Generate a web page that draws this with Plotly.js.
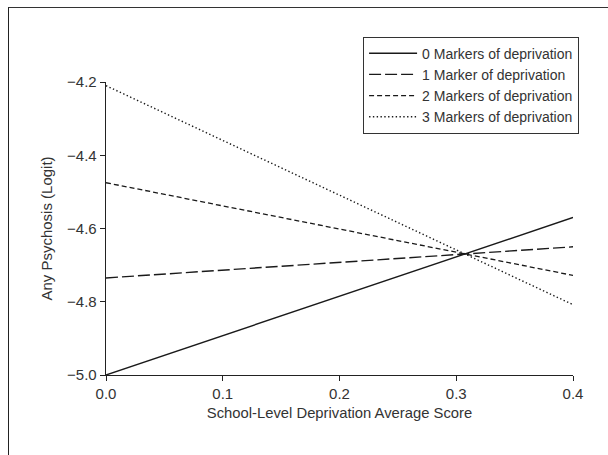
<!DOCTYPE html>
<html>
<head>
<meta charset="utf-8">
<script src="https://cdn.plot.ly/plotly-3.0.1.min.js"></script>
<style>
html,body{margin:0;padding:0;background:#fff;}
#frame{position:absolute;left:8px;top:7px;width:700px;height:600px;border-left:1.5px solid #222;border-top:1px solid #333;}
#chart{position:absolute;left:0;top:0;width:608px;height:455px;}
</style>
</head>
<body>
<div id="frame"></div>
<div id="chart"></div>
<script>
// School-level deprivation average score (x)
var xScore = [0.0, 0.4];
// Any psychosis (logit) for each number of individual deprivation markers
var names = ["0 Markers of deprivation", "1 Marker of deprivation", "2 Markers of deprivation", "3 Markers of deprivation"];
var y0 = [-5.0, -4.57];
var y1 = [-4.735, -4.65];
var y2 = [-4.475, -4.728];
var y3 = [-4.21, -4.808];
var xTicks = [0.0, 0.1, 0.2, 0.3, 0.4];
var xTickText = ["0.0", "0.1", "0.2", "0.3", "0.4"];
var yTicks = [-5.0, -4.8, -4.6, -4.4, -4.2];
var yTickText = ["\u22125.0", "\u22124.8", "\u22124.6", "\u22124.4", "\u22124.2"];

var series = [y0, y1, y2, y3];
var dashes = ["solid", "12px,4px", "5px,3px", "1.4px,2.4px"];
var widths = [1.4, 1.4, 1.3, 1.4];

var traces = series.map(function(ys, i){
  return {
    x: xScore, y: ys, type: "scatter", mode: "lines", name: names[i],
    line: {color: "#1a1a1a", width: widths[i], dash: dashes[i]}
  };
});

var font = "'Liberation Sans', Arial, sans-serif";

var layout = {
  width: 608, height: 455,
  margin: {l: 106, r: 35, t: 82, b: 80},
  paper_bgcolor: "rgba(0,0,0,0)",
  plot_bgcolor: "rgba(0,0,0,0)",
  font: {family: font, size: 15, color: "#333"},
  showlegend: true,
  legend: {
    x: 1.013, xanchor: "right", y: 1.155, yanchor: "top",
    bordercolor: "#333", borderwidth: 1, bgcolor: "#fff",
    font: {family: font, size: 14, color: "#333"},
    itemwidth: 48, tracegroupgap: 0
  },
  xaxis: {
    range: [0, 0.4], tickvals: xTicks, ticktext: xTickText,
    showgrid: false, zeroline: false, showline: true, linecolor: "#222", linewidth: 1.3,
    ticks: "outside", ticklen: 5, tickcolor: "#222", tickwidth: 1,
    tickfont: {family: font, size: 15, color: "#333"},
    title: {text: "School-Level Deprivation Average Score", font: {family: font, size: 14.8, color: "#333"}, standoff: 6},
    automargin: false
  },
  yaxis: {
    range: [-5.0, -4.2], tickvals: yTicks, ticktext: yTickText,
    showgrid: false, zeroline: false, showline: true, linecolor: "#222", linewidth: 1.3,
    ticks: "outside", ticklen: 5, tickcolor: "#222", tickwidth: 1,
    tickfont: {family: font, size: 15, color: "#333"},
    title: {text: "Any Psychosis (Logit)", font: {family: font, size: 15, color: "#333"}, standoff: 10},
    automargin: false
  }
};

Plotly.newPlot("chart", traces, layout, {displayModeBar: false, staticPlot: true});
</script>
</body>
</html>
